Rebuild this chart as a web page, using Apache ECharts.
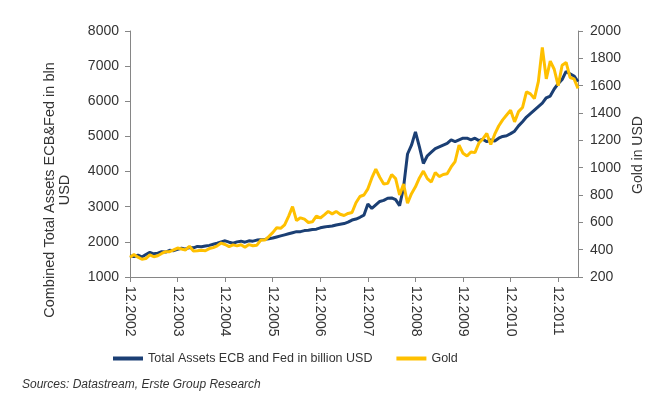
<!DOCTYPE html>
<html>
<head>
<meta charset="utf-8">
<script src="https://cdn.jsdelivr.net/npm/echarts@6/dist/echarts.min.js"></script>
<style>html,body{margin:0;padding:0;background:#fff;}#c{width:657px;height:403px;}</style>
</head>
<body>
<div id="c"></div>
<script>
// Monthly observations from 12.2002 to 05.2012
const startYear = 2002, startMonth = 12, monthCount = 114;
const categories = [];
for (let i = 0; i < monthCount; i++) {
  const m = ((startMonth - 1 + i) % 12) + 1;
  const y = startYear + Math.floor((startMonth - 1 + i) / 12);
  categories.push((m < 10 ? '0' + m : '' + m) + '.' + y);
}
const seriesNames = ['Total Assets ECB and Fed in billion USD', 'Gold'];
const assetsValues = [
  1600,
  1580, 1620, 1570, 1640, 1700, 1660, 1680, 1720, 1710, 1760, 1750, 1790,
  1820, 1790, 1840, 1830, 1870, 1860, 1880, 1900, 1930, 1960, 2000, 2030,
  1990, 1960, 2000, 2020, 1990, 2030, 2020, 2050, 2060, 2070, 2090, 2110,
  2140, 2170, 2200, 2230, 2260, 2290, 2290, 2320, 2330, 2350, 2360, 2400,
  2420, 2440, 2450, 2480, 2500, 2520, 2560, 2620, 2650, 2700, 2760, 3080,
  2950, 3050, 3150, 3180, 3240, 3250, 3200, 3030, 3550, 4500, 4750, 5130,
  4700, 4230, 4450, 4550, 4650, 4700, 4750, 4800, 4900, 4850, 4900, 4950,
  4950, 4900, 4950, 4880, 4920, 4850, 4900, 4870, 4950, 5000, 5020, 5080,
  5150, 5300, 5420, 5550, 5650, 5750, 5850, 5950, 6100, 6150, 6350, 6500,
  6620, 6850, 6780, 6720, 6560
];
const goldValues = [
  345,
  365, 345, 330, 335, 362, 348, 355, 372, 385, 385, 398, 412,
  405, 398, 425, 390, 392, 395, 392, 408, 415, 428, 448, 438,
  422, 435, 428, 436, 418, 437, 429, 433, 470, 470, 496, 525,
  560, 556, 582, 644, 715, 613, 633, 623, 599, 604, 646, 632,
  655, 680, 662, 680, 659, 650, 665, 672, 743, 789, 800, 845,
  925, 990, 930, 880, 885, 950, 920, 800, 880, 740, 810, 860,
  925, 975, 920, 895, 965, 935, 950, 955, 1005, 1045, 1165, 1105,
  1085, 1115, 1110, 1180, 1210, 1250, 1170, 1245, 1305, 1350, 1385, 1420,
  1335, 1410, 1440, 1555, 1540, 1505, 1630, 1880, 1650, 1780, 1720, 1600,
  1750, 1770, 1660, 1650, 1580
];
const leftAxisTitle = 'Combined Total Assets ECB&Fed in bln\nUSD';
const rightAxisTitle = 'Gold in USD';
const sourceText = 'Sources: Datastream, Erste Group Research';

const axisGray = '#868686';
const textColor = '#333333';
const font = '"Liberation Sans", Arial, sans-serif';
const yearTick = (idx) => idx % 12 === 0;
const plainNumber = (v) => String(v);

const chart = echarts.init(document.getElementById('c'), null, {renderer: 'canvas'});
chart.setOption({
  animation: false,
  backgroundColor: '#ffffff',
  textStyle: {fontFamily: font},
  grid: {left: 130, right: 79, top: 31, bottom: 126, containLabel: false},
  legend: {
    left: 108, top: 347, itemGap: 24, itemWidth: 30, itemHeight: 4, icon: 'rect',
    textStyle: {fontSize: 12.5, color: textColor, fontFamily: font},
    data: seriesNames
  },
  xAxis: {
    type: 'category', data: categories, boundaryGap: false,
    axisLine: {lineStyle: {color: axisGray, width: 1}},
    axisTick: {show: true, interval: yearTick, length: 5, lineStyle: {color: axisGray}},
    axisLabel: {
      interval: yearTick, rotate: -90, margin: 9, fontSize: 14, color: textColor, fontFamily: font,
      formatter: (v) => v
    },
    splitLine: {show: false}
  },
  yAxis: [
    {
      type: 'value', min: 1000, max: 8000, interval: 1000, position: 'left',
      axisLine: {show: true, lineStyle: {color: axisGray}},
      axisTick: {show: true, length: 5, lineStyle: {color: axisGray}},
      axisLabel: {fontSize: 14, color: textColor, margin: 11, fontFamily: font, formatter: plainNumber},
      splitLine: {show: false}
    },
    {
      type: 'value', min: 200, max: 2000, interval: 200, position: 'right',
      axisLine: {show: true, lineStyle: {color: axisGray}},
      axisTick: {show: true, length: 5, lineStyle: {color: axisGray}},
      axisLabel: {fontSize: 14, color: textColor, margin: 12, fontFamily: font, formatter: plainNumber},
      splitLine: {show: false}
    }
  ],
  series: [
    {
      name: seriesNames[0], type: 'line', yAxisIndex: 0, data: assetsValues,
      showSymbol: false, symbol: 'none', lineStyle: {color: '#1B3F74', width: 3}, itemStyle: {color: '#1B3F74'},
      z: 2
    },
    {
      name: seriesNames[1], type: 'line', yAxisIndex: 1, data: goldValues,
      showSymbol: false, symbol: 'none', lineStyle: {color: '#FFC000', width: 3}, itemStyle: {color: '#FFC000'},
      z: 3
    }
  ],
  graphic: [
    {
      type: 'text', x: 57, y: 190, rotation: Math.PI / 2,
      style: {text: leftAxisTitle, font: '14.5px ' + font, fill: textColor, align: 'center', verticalAlign: 'middle', lineHeight: 15}
    },
    {
      type: 'text', x: 638, y: 155, rotation: Math.PI / 2,
      style: {text: rightAxisTitle, font: '14px ' + font, fill: textColor, align: 'center', verticalAlign: 'middle'}
    },
    {
      type: 'text', x: 22, y: 385,
      style: {text: sourceText, font: 'italic 12px ' + font, fill: textColor, align: 'left', verticalAlign: 'middle'}
    }
  ]
});
</script>
</body>
</html>
